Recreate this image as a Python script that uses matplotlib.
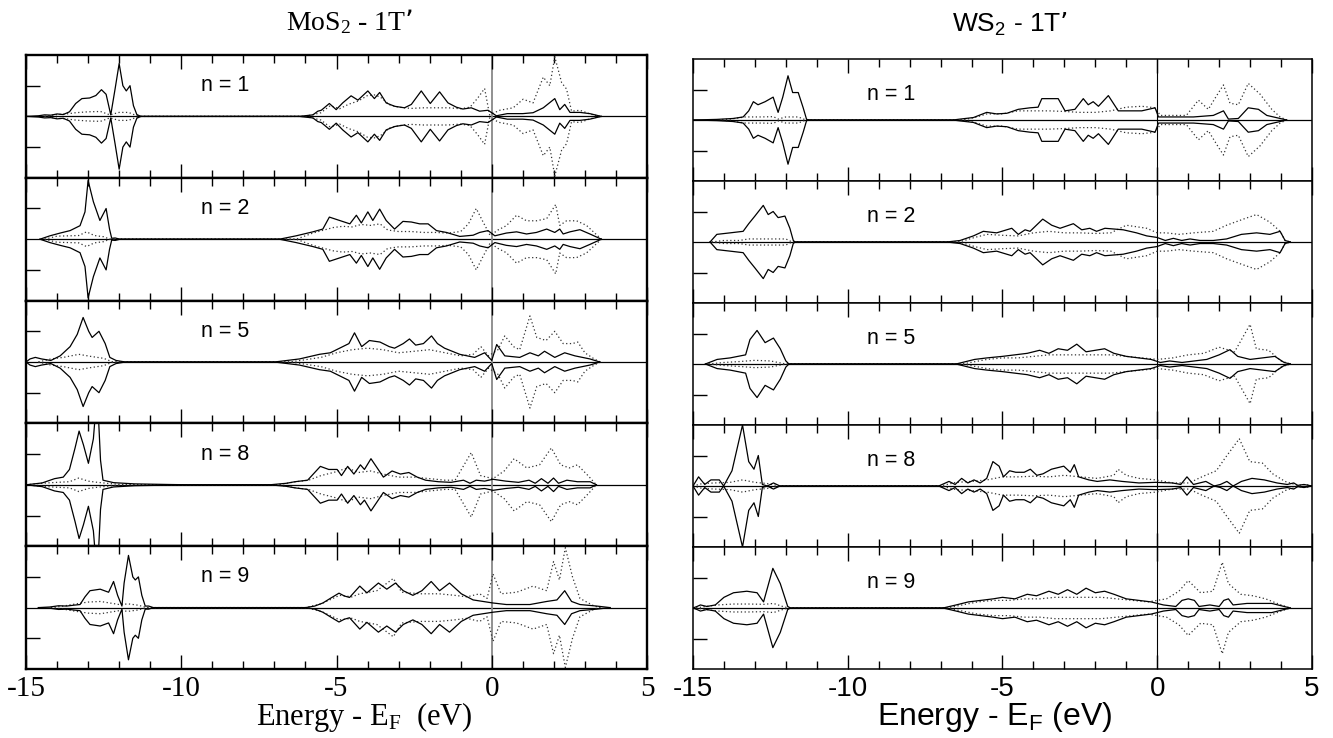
import matplotlib.pyplot as plt

plt.rcParams['axes.unicode_minus'] = False

energy_ticks = [-15, -10, -5, 0, 5]
energy_tick_labels = ['-15', '-10', '-5', '0', '5']
panel_labels = ['n = 1', 'n = 2', 'n = 5', 'n = 8', 'n = 9']

# projected DOS, (energy, weight) pairs; curves are mirrored about zero
# MoS2 - 1T'
mos2_n1_solid = [(-15.0, 0), (-14.6, 0.02), (-14.4, 0.05), (-14.2, 0.04), (-14.0, 0.08), (-13.8, 0.06), (-13.6, 0.15),
                 (-13.4, 0.42), (-13.2, 0.58), (-12.95, 0.6), (-12.75, 0.68), (-12.57, 0.87), (-12.42, 0.72),
                 (-12.27, 0.05), (-12.13, 0.9), (-12.0, 1.72), (-11.88, 1.0), (-11.77, 0.83), (-11.65, 1.0),
                 (-11.54, 0.35), (-11.43, 0.06), (-11.3, 0),
                 (-6.2, 0), (-5.76, 0.05), (-5.6, 0.17), (-5.49, 0.2), (-5.23, 0.42), (-5.01, 0.22), (-4.8, 0.44),
                 (-4.53, 0.67), (-4.31, 0.53), (-3.99, 0.83), (-3.78, 0.58), (-3.61, 0.78), (-3.4, 0.44),
                 (-3.13, 0.33), (-2.81, 0.28), (-2.59, 0.39), (-2.27, 0.83), (-1.98, 0.42), (-1.68, 0.8),
                 (-1.41, 0.44), (-1.14, 0.3), (-0.93, 0.24), (-0.66, 0.28), (-0.39, 0.17), (-0.12, 0.2),
                 (0.15, 0.02), (0.5, 0.09), (1.0, 0.09), (1.33, 0.12), (1.66, 0.28), (2.03, 0.58), (2.19, 0.22),
                 (2.35, 0.39), (2.52, 0.13), (2.84, 0.13), (3.16, 0.09), (3.53, 0)]
mos2_n1_dot = [(-14.4, 0), (-14.0, 0.06), (-13.7, 0.08), (-13.4, 0.12), (-13.0, 0.15), (-12.6, 0.16), (-12.3, 0.05),
               (-12.0, 0.13), (-11.7, 0.13), (-11.5, 0.05), (-11.3, 0),
               (-6.0, 0), (-5.5, 0.12), (-5.2, 0.35), (-4.9, 0.25), (-4.6, 0.4), (-4.3, 0.5), (-4.0, 0.68),
               (-3.75, 0.7), (-3.55, 0.6), (-3.3, 0.38), (-3.0, 0.3), (-2.6, 0.26), (-2.2, 0.28), (-1.8, 0.28),
               (-1.4, 0.28), (-1.0, 0.25), (-0.7, 0.3), (-0.45, 0.6), (-0.23, 0.91), (-0.07, 0.05), (0.26, 0.2),
               (0.69, 0.28), (1.01, 0.56), (1.33, 0.44), (1.66, 1.28), (1.87, 1.0), (2.03, 1.94), (2.25, 1.1),
               (2.41, 0.89), (2.57, 0.17), (2.84, 0.2), (3.16, 0.08), (3.48, 0)]

mos2_n2_solid = [(-14.55, 0), (-14.23, 0.11), (-13.9, 0.2), (-13.58, 0.28), (-13.26, 0.44), (-13.1, 0.89),
                 (-13.0, 1.91), (-12.83, 1.22), (-12.62, 0.61), (-12.42, 1.0), (-12.31, 0.33), (-12.24, 0.03),
                 (-12.13, 0.04), (-11.97, 0),
                 (-6.84, 0), (-6.3, 0.11), (-5.76, 0.24), (-5.44, 0.33), (-5.23, 0.72), (-4.9, 0.61), (-4.57, 0.5),
                 (-4.36, 0.78), (-4.2, 0.53), (-3.99, 0.89), (-3.83, 0.61), (-3.61, 0.98), (-3.4, 0.61),
                 (-3.13, 0.33), (-2.86, 0.58), (-2.59, 0.56), (-2.32, 0.5), (-2.05, 0.5), (-1.78, 0.28),
                 (-1.46, 0.22), (-1.03, 0.09), (-0.6, 0.13), (-0.39, 0.22), (-0.12, 0.28), (0.1, 0.11), (0.47, 0.2),
                 (0.8, 0.24), (1.12, 0.17), (1.44, 0.22), (1.77, 0.33), (2.03, 0.22), (2.19, 0.33), (2.3, 0.17),
                 (2.52, 0.24), (2.84, 0.31), (3.16, 0.17), (3.53, 0)]
mos2_n2_dot = [(-14.4, 0), (-14.0, 0.1), (-13.6, 0.11), (-13.3, 0.12), (-13.05, 0.24), (-12.8, 0.12), (-12.5, 0.08),
               (-12.3, 0),
               (-6.3, 0), (-5.76, 0.2), (-5.4, 0.3), (-5.1, 0.38), (-4.8, 0.42), (-4.5, 0.4), (-4.2, 0.48),
               (-3.9, 0.45), (-3.6, 0.5), (-3.35, 0.3), (-3.0, 0.25), (-2.6, 0.25), (-2.2, 0.22), (-1.8, 0.22),
               (-1.4, 0.2), (-1.0, 0.25), (-0.75, 0.5), (-0.5, 1.0), (-0.3, 0.6), (-0.05, 0.12), (0.2, 0.3),
               (0.47, 0.44), (0.8, 0.78), (1.12, 0.6), (1.44, 0.6), (1.77, 0.67), (2.06, 1.13), (2.19, 0.45),
               (2.41, 0.6), (2.73, 0.6), (3.05, 0.45), (3.53, 0)]

mos2_n5_solid = [(-15.0, 0), (-14.87, 0.1), (-14.7, 0.15), (-14.5, 0.1), (-14.2, 0.05), (-13.9, 0.2), (-13.58, 0.5),
                 (-13.35, 0.9), (-13.16, 1.45), (-12.98, 1.0), (-12.87, 0.8), (-12.65, 1.0), (-12.45, 0.6),
                 (-12.3, 0.15), (-12.1, 0.05), (-11.8, 0),
                 (-7.0, 0), (-6.19, 0.1), (-5.55, 0.25), (-5.2, 0.3), (-4.9, 0.45), (-4.6, 0.6), (-4.42, 0.95),
                 (-4.19, 0.5), (-3.94, 0.7), (-3.6, 0.65), (-3.3, 0.5), (-3.13, 0.45), (-2.85, 0.6), (-2.65, 0.75),
                 (-2.45, 0.55), (-2.2, 0.6), (-1.94, 0.85), (-1.75, 0.6), (-1.52, 0.45), (-1.03, 0.25),
                 (-0.55, 0.15), (-0.23, 0.3), (0.0, 0.05), (0.16, 0.57), (0.42, 0.2), (0.9, 0.15), (1.23, 0.3),
                 (1.5, 0.2), (1.7, 0.35), (2.03, 0.15), (2.35, 0.3), (2.68, 0.2), (3.16, 0.1), (3.48, 0)]
mos2_n5_dot = [(-14.6, 0), (-14.2, 0.1), (-13.8, 0.15), (-13.3, 0.25), (-12.9, 0.18), (-12.5, 0.12), (-12.2, 0),
               (-6.5, 0), (-5.5, 0.15), (-5.0, 0.3), (-4.5, 0.4), (-4.0, 0.45), (-3.5, 0.4), (-3.0, 0.3),
               (-2.5, 0.35), (-2.0, 0.4), (-1.5, 0.3), (-1.0, 0.2), (-0.6, 0.25), (-0.35, 0.5), (-0.1, 0.2),
               (0.2, 0.4), (0.42, 0.85), (0.7, 0.5), (0.9, 0.4), (1.23, 1.5), (1.45, 0.8), (1.75, 0.7),
               (2.03, 1.0), (2.3, 0.6), (2.6, 0.6), (2.77, 0.65), (3.0, 0.3), (3.3, 0.1), (3.5, 0)]

mos2_n8_solid = [(-15.0, 0), (-14.48, 0.06), (-14.08, 0.2), (-13.8, 0.25), (-13.6, 0.5), (-13.42, 1.2),
                 (-13.29, 1.75), (-13.15, 1.3), (-12.99, 0.7), (-12.83, 1.5), (-12.75, 2.5), (-12.68, 2.5),
                 (-12.6, 0.8), (-12.52, 0.15), (-12.18, 0.07), (-11.5, 0.03), (-10.4, 0.01), (-9.7, 0),
                 (-7.15, 0), (-6.61, 0.05), (-6.34, 0.1), (-5.93, 0.15), (-5.52, 0.6), (-5.25, 0.5), (-4.98, 0.5),
                 (-4.84, 0.3), (-4.64, 0.6), (-4.44, 0.35), (-4.23, 0.65), (-4.1, 0.5), (-3.89, 0.85),
                 (-3.69, 0.55), (-3.49, 0.25), (-3.21, 0.45), (-2.94, 0.35), (-2.67, 0.4), (-2.4, 0.25),
                 (-2.13, 0.15), (-1.72, 0.1), (-1.31, 0.08), (-0.91, 0.15), (-0.7, 0.05), (-0.5, 0.15),
                 (-0.23, 0.12), (0.04, 0.18), (0.45, 0.12), (0.86, 0.08), (1.2, 0.15), (1.4, 0.05), (1.6, 0.2),
                 (1.81, 0.05), (1.99, 0.22), (2.15, 0.05), (2.42, 0.15), (2.76, 0.1), (3.17, 0.1), (3.37, 0)]
mos2_n8_dot = [(-15.0, 0), (-14.5, 0.05), (-14.0, 0.08), (-13.6, 0.1), (-13.3, 0.22), (-13.0, 0.12), (-12.7, 0.08),
               (-12.3, 0.04), (-11.8, 0),
               (-6.9, 0), (-6.3, 0.1), (-5.9, 0.15), (-5.5, 0.3), (-5.1, 0.4), (-4.64, 0.55), (-4.3, 0.4),
               (-3.9, 0.45), (-3.5, 0.35), (-3.0, 0.25), (-2.5, 0.25), (-2.0, 0.2), (-1.5, 0.15), (-1.18, 0.15),
               (-0.66, 1.05), (-0.36, 0.3), (0.04, 0.2), (0.4, 0.45), (0.72, 0.85), (1.13, 0.55), (1.54, 0.65),
               (1.92, 1.2), (2.22, 0.65), (2.5, 0.55), (2.76, 0.65), (3.1, 0.3), (3.37, 0)]

mos2_n9_solid = [(-14.6, 0), (-14.23, 0.02), (-13.95, 0.06), (-13.69, 0.05), (-13.45, 0.08), (-13.26, 0.1),
                 (-13.1, 0.35), (-12.94, 0.55), (-12.61, 0.6), (-12.34, 0.5), (-12.18, 0.85), (-12.05, 0.4),
                 (-11.91, 0.05), (-11.84, 0.8), (-11.7, 1.7), (-11.56, 1.0), (-11.48, 0.9), (-11.38, 1.0),
                 (-11.27, 0.4), (-11.16, 0.05), (-11.05, 0.05), (-10.9, 0),
                 (-6.0, 0), (-5.7, 0.05), (-5.44, 0.15), (-5.2, 0.3), (-4.92, 0.47), (-4.75, 0.38), (-4.58, 0.33),
                 (-4.25, 0.7), (-4.02, 0.48), (-3.65, 0.8), (-3.38, 0.6), (-3.1, 0.8), (-2.85, 0.55),
                 (-2.54, 0.4), (-2.25, 0.55), (-1.95, 0.85), (-1.68, 0.55), (-1.36, 0.8), (-0.98, 0.45),
                 (-0.6, 0.25), (-0.28, 0.2), (0.04, 0.15), (0.47, 0.1), (1.23, 0.1), (1.77, 0.2), (2.1, 0.25),
                 (2.35, 0.55), (2.57, 0.2), (2.84, 0.1), (3.38, 0.05), (3.81, 0)]
mos2_n9_dot = [(-14.2, 0), (-13.8, 0.05), (-13.4, 0.12), (-13.0, 0.18), (-12.6, 0.2), (-12.3, 0.15), (-12.0, 0.1),
               (-11.7, 0.12), (-11.4, 0.08), (-11.1, 0),
               (-6.0, 0), (-5.5, 0.12), (-4.9, 0.4), (-4.5, 0.35), (-4.25, 0.45), (-3.7, 0.55), (-3.17, 0.95),
               (-2.9, 0.5), (-2.3, 0.45), (-1.7, 0.45), (-1.2, 0.4), (-0.8, 0.35), (-0.39, 0.45), (-0.15, 0.3),
               (0.04, 1.1), (0.3, 0.45), (0.8, 0.5), (1.33, 0.7), (1.77, 0.55), (1.99, 1.5), (2.18, 0.9),
               (2.37, 1.95), (2.6, 1.0), (2.84, 0.3), (3.3, 0.05), (3.5, 0)]

# WS2 - 1T'
ws2_n1_solid = [(-15.0, 0), (-14.23, 0.02), (-13.7, 0.05), (-13.38, 0.1), (-13.2, 0.3), (-13.05, 0.6), (-12.9, 0.5),
                (-12.67, 0.6), (-12.41, 0.75), (-12.25, 0.25), (-12.1, 0.75), (-11.93, 1.45), (-11.78, 0.9),
                (-11.6, 0.9), (-11.44, 0.4), (-11.33, 0.02), (-11.2, 0),
                (-6.6, 0), (-6.37, 0.03), (-5.94, 0.08), (-5.51, 0.25), (-5.19, 0.2), (-4.86, 0.22), (-4.49, 0.35),
                (-4.11, 0.4), (-3.85, 0.42), (-3.73, 0.7), (-3.2, 0.7), (-2.98, 0.3), (-2.66, 0.35), (-2.39, 0.7),
                (-2.23, 0.5), (-2.07, 0.6), (-1.9, 0.45), (-1.58, 0.8), (-1.26, 0.3), (-0.88, 0.3), (-0.5, 0.3),
                (-0.07, 0.4), (0.04, 0.1), (0.52, 0.1), (1.17, 0.1), (1.81, 0.15), (2.14, 0.3), (2.3, 0.03),
                (2.62, 0.05), (2.94, 0.4), (3.27, 0.35), (3.54, 0.15), (3.97, 0.05), (4.18, 0)]
ws2_n1_dot = [(-14.3, 0), (-13.8, 0.03), (-13.3, 0.1), (-12.8, 0.1), (-12.4, 0.11), (-12.25, 0.03), (-12.0, 0.1),
              (-11.6, 0.1), (-11.35, 0),
              (-6.3, 0), (-5.9, 0.08), (-5.5, 0.2), (-5.0, 0.2), (-4.5, 0.3), (-4.0, 0.3), (-3.5, 0.3),
              (-3.0, 0.28), (-2.5, 0.25), (-2.0, 0.25), (-1.5, 0.3), (-1.0, 0.42), (-0.5, 0.45), (-0.07, 0.4),
              (0.1, 0.15), (0.94, 0.15), (1.33, 0.65), (1.65, 0.35), (1.92, 0.8), (2.14, 1.15), (2.35, 0.55),
              (2.62, 0.5), (2.94, 1.2), (3.32, 0.85), (3.7, 0.35), (3.97, 0.1), (4.18, 0)]

ws2_n2_solid = [(-14.45, 0), (-14.23, 0.25), (-13.8, 0.3), (-13.38, 0.35), (-13.2, 0.6), (-13.0, 0.85),
                (-12.73, 1.2), (-12.57, 0.9), (-12.41, 1.0), (-12.25, 0.8), (-12.03, 0.85), (-11.87, 0.45),
                (-11.76, 0.05), (-11.7, 0),
                (-6.8, 0), (-6.37, 0.05), (-5.94, 0.2), (-5.62, 0.35), (-5.19, 0.3), (-4.7, 0.45), (-4.49, 0.25),
                (-4.27, 0.4), (-4.11, 0.35), (-3.7, 0.75), (-3.41, 0.55), (-3.14, 0.45), (-2.71, 0.6),
                (-2.44, 0.4), (-2.18, 0.45), (-1.96, 0.35), (-1.69, 0.45), (-1.1, 0.4), (-0.67, 0.3),
                (-0.34, 0.2), (-0.01, 0.15), (0.26, 0.05), (0.52, 0.12), (0.79, 0.05), (1.06, 0.1), (1.38, 0.05),
                (1.81, 0.05), (2.24, 0.1), (2.72, 0.25), (3.21, 0.3), (3.64, 0.25), (3.97, 0.35), (4.13, 0.05),
                (4.3, 0)]
ws2_n2_dot = [(-14.4, 0), (-14.0, 0.05), (-13.5, 0.05), (-13.2, 0.1), (-12.6, 0.1), (-12.0, 0.1), (-11.8, 0),
              (-6.4, 0), (-5.9, 0.15), (-5.5, 0.25), (-5.0, 0.22), (-4.5, 0.2), (-4.0, 0.3), (-3.5, 0.35),
              (-3.0, 0.3), (-2.5, 0.3), (-2.0, 0.28), (-1.5, 0.3), (-1.0, 0.55), (-0.34, 0.45), (0.0, 0.3),
              (0.3, 0.3), (0.7, 0.25), (1.17, 0.3), (1.81, 0.35), (2.24, 0.55), (2.78, 0.75), (3.21, 0.9),
              (3.64, 0.65), (3.97, 0.35), (4.13, 0.05), (4.3, 0)]

ws2_n5_solid = [(-14.6, 0), (-14.22, 0.15), (-13.8, 0.2), (-13.3, 0.3), (-13.16, 0.8), (-12.93, 1.1), (-12.67, 0.7),
                (-12.4, 0.85), (-12.18, 0.5), (-12.0, 0.1), (-11.9, 0),
                (-6.5, 0), (-6.3, 0.05), (-5.9, 0.15), (-5.5, 0.2), (-5.0, 0.25), (-4.6, 0.3), (-4.2, 0.35),
                (-3.8, 0.45), (-3.5, 0.35), (-3.2, 0.5), (-2.9, 0.45), (-2.6, 0.65), (-2.3, 0.4), (-2.0, 0.45),
                (-1.7, 0.5), (-1.4, 0.35), (-1.0, 0.25), (-0.6, 0.2), (-0.2, 0.15), (0.1, 0.05), (0.4, 0.1),
                (0.8, 0.05), (1.2, 0.1), (1.6, 0.15), (2.0, 0.3), (2.35, 0.47), (2.6, 0.25), (3.0, 0.15),
                (3.4, 0.2), (3.8, 0.25), (4.1, 0.05), (4.3, 0)]
ws2_n5_dot = [(-14.5, 0), (-14.0, 0.05), (-13.5, 0.08), (-13.0, 0.12), (-12.5, 0.1), (-12.0, 0),
              (-6.3, 0), (-5.5, 0.15), (-5.0, 0.2), (-4.5, 0.2), (-4.0, 0.25), (-3.5, 0.3), (-3.0, 0.3),
              (-2.5, 0.3), (-2.0, 0.3), (-1.5, 0.3), (-1.0, 0.25), (-0.5, 0.2), (0.0, 0.15), (0.5, 0.2),
              (1.0, 0.3), (1.5, 0.35), (2.0, 0.55), (2.5, 0.4), (3.0, 1.3), (3.2, 0.5), (3.6, 0.45), (4.0, 0.1),
              (4.3, 0)]

ws2_n8_solid = [(-15.0, 0), (-14.82, 0.3), (-14.62, 0.05), (-14.42, 0.2), (-14.15, 0.2), (-14.01, 0.0),
                (-13.74, 0.5), (-13.4, 2.0), (-13.2, 0.8), (-13.03, 0.55), (-12.89, 1.0), (-12.76, 0.05),
                (-12.6, 0.0), (-12.4, 0.1), (-12.19, 0),
                (-7.06, 0), (-6.73, 0.15), (-6.53, 0.05), (-6.32, 0.25), (-6.12, 0.1), (-5.92, 0.2), (-5.72, 0.1),
                (-5.51, 0.25), (-5.31, 0.8), (-5.11, 0.65), (-4.97, 0.3), (-4.77, 0.5), (-4.57, 0.45),
                (-4.3, 0.45), (-4.1, 0.55), (-3.89, 0.35), (-3.69, 0.4), (-3.42, 0.55), (-3.22, 0.6),
                (-3.02, 0.65), (-2.81, 0.45), (-2.68, 0.7), (-2.54, 0.3), (-2.21, 0.2), (-1.94, 0.15),
                (-1.53, 0.2), (-1.13, 0.15), (-0.59, 0.1), (-0.05, 0.12), (0.49, 0.1), (0.76, 0.05), (0.96, 0.3),
                (1.17, 0.05), (1.57, 0.15), (1.84, 0.0), (2.04, 0.05), (2.25, 0.15), (2.45, 0.0), (2.72, 0.15),
                (3.06, 0.25), (3.46, 0.2), (3.87, 0.1), (4.2, 0.05), (4.41, 0.1), (4.54, 0.02), (4.74, 0.05),
                (5.0, 0)]
ws2_n8_dot = [(-15.0, 0), (-14.7, 0.08), (-14.3, 0.1), (-13.8, 0.12), (-13.4, 0.2), (-13.0, 0.12), (-12.6, 0.08),
              (-12.2, 0),
              (-7.0, 0), (-6.5, 0.12), (-6.0, 0.15), (-5.5, 0.2), (-5.0, 0.3), (-4.5, 0.3), (-4.0, 0.32),
              (-3.5, 0.3), (-3.0, 0.35), (-2.5, 0.3), (-1.94, 0.25), (-1.4, 0.35), (-1.27, 0.55), (-1.0, 0.35),
              (-0.59, 0.25), (-0.05, 0.2), (0.49, 0.1), (1.03, 0.1), (1.44, 0.3), (1.91, 0.5), (2.18, 0.9),
              (2.65, 1.55), (2.99, 0.8), (3.4, 0.75), (3.73, 0.4), (4.13, 0.15), (4.54, 0.02), (4.81, 0.05),
              (5.0, 0)]

ws2_n9_solid = [(-15.0, 0), (-14.87, 0.05), (-14.76, 0.1), (-14.55, 0.05), (-14.28, 0.1), (-14.0, 0.35),
                (-13.69, 0.5), (-13.26, 0.55), (-12.93, 0.5), (-12.72, 0.2), (-12.42, 1.3), (-12.18, 0.8),
                (-11.94, 0.05), (-11.85, 0),
                (-6.92, 0), (-6.5, 0.1), (-6.1, 0.2), (-5.7, 0.25), (-5.3, 0.3), (-5.0, 0.35), (-4.6, 0.3),
                (-4.2, 0.45), (-3.9, 0.4), (-3.5, 0.55), (-3.2, 0.45), (-2.9, 0.6), (-2.6, 0.45), (-2.3, 0.65),
                (-2.0, 0.5), (-1.7, 0.55), (-1.4, 0.45), (-1.0, 0.3), (-0.6, 0.25), (-0.2, 0.2), (0.2, 0.1),
                (0.6, 0.05), (0.8, 0.25), (1.0, 0.3), (1.2, 0.25), (1.35, 0.05), (1.7, 0.1), (2.0, 0.05),
                (2.15, 0.25), (2.3, 0.3), (2.45, 0.1), (2.9, 0.15), (3.3, 0.15), (3.7, 0.15), (4.1, 0.05), (4.3, 0)]
ws2_n9_dot = [(-14.9, 0), (-14.6, 0.05), (-14.2, 0.1), (-13.7, 0.13), (-13.2, 0.13), (-12.7, 0.12), (-12.4, 0.15),
              (-12.1, 0.05), (-11.9, 0),
              (-6.8, 0), (-6.3, 0.1), (-5.8, 0.2), (-5.3, 0.25), (-4.8, 0.25), (-4.3, 0.3), (-3.8, 0.3),
              (-3.3, 0.35), (-2.8, 0.35), (-2.3, 0.35), (-1.8, 0.35), (-1.3, 0.3), (-0.8, 0.25), (-0.3, 0.2),
              (0.3, 0.3), (0.7, 0.55), (1.0, 0.9), (1.4, 0.5), (1.8, 0.55), (2.1, 1.5), (2.3, 0.8), (2.7, 0.45),
              (3.1, 0.4), (3.5, 0.3), (4.0, 0.1), (4.3, 0)]

mos2_panels = [(mos2_n1_solid, mos2_n1_dot), (mos2_n2_solid, mos2_n2_dot), (mos2_n5_solid, mos2_n5_dot),
               (mos2_n8_solid, mos2_n8_dot), (mos2_n9_solid, mos2_n9_dot)]
ws2_panels = [(ws2_n1_solid, ws2_n1_dot), (ws2_n2_solid, ws2_n2_dot), (ws2_n5_solid, ws2_n5_dot),
              (ws2_n8_solid, ws2_n8_dot), (ws2_n9_solid, ws2_n9_dot)]

fig = plt.figure(figsize=(13.33, 7.38), dpi=100)

SERIF = ['Liberation Serif', 'DejaVu Serif']
SANS = ['Liberation Sans', 'DejaVu Sans']


def mirrored(ax, pairs, **kw):
    e, v = zip(*pairs)
    ax.plot(e, v, **kw)
    ax.plot(e, [-x for x in v], **kw)


def draw_column(panels, left, width, top, height, font, tick_size, frame_lw, zero_color, zero_lw, label_y):
    for i, (solid, dot) in enumerate(panels):
        ax = fig.add_axes([left, top - (i + 1) * height, width, height])
        ax.set_xlim(-15, 5)
        ax.set_ylim(-2, 2)
        ax.axhline(0, color='k', lw=0.9, zorder=1)
        ax.axvline(0, color=zero_color, lw=zero_lw, zorder=1)
        mirrored(ax, dot, color='#333333', lw=0.9, ls=(0, (1, 2)), zorder=2)
        mirrored(ax, solid, color='k', lw=0.9, zorder=3)
        ax.text(-8.6, label_y, panel_labels[i], family=SANS, fontsize=15.5, ha='center', va='center')

        ax.set_xticks(energy_ticks)
        ax.set_xticks(range(-15, 6), minor=True)
        ax.set_yticks([-1, 1])
        ax.tick_params(axis='x', which='major', direction='in', length=10, width=1.0, top=True, bottom=True)
        ax.tick_params(axis='x', which='minor', direction='in', length=5.5, width=1.0, top=True, bottom=True)
        ax.tick_params(axis='y', direction='in', length=10, width=1.0, labelleft=False)
        for s in ax.spines.values():
            s.set_linewidth(frame_lw)
        if i == len(panels) - 1:
            ax.set_xticklabels(energy_tick_labels, family=font, fontsize=tick_size)
            ax.tick_params(axis='x', pad=5)
        else:
            ax.tick_params(axis='x', labelbottom=False)


H = 1333.0
V = 738.0
draw_column(mos2_panels, 26 / H, 621 / H, 1 - 55 / V, 122.8 / V, SERIF, 21, 1.7, '#888888', 1.3, 1.0)
draw_column(ws2_panels, 693 / H, 619 / H, 1 - 59 / V, 122 / V, SANS, 20, 1.1, 'k', 0.8, 0.85)

fig.text(349 / H, 1 - 22 / V, r"MoS$\mathregular{_2}$ - 1T’", family=SERIF, fontsize=20, ha='center', va='center')
fig.text(1010 / H, 1 - 24 / V, r"WS$\mathregular{_2}$ - 1T’", family=SANS, fontsize=19, ha='center', va='center')
fig.text(364 / H, 1 - 717 / V, r"Energy - E$\mathregular{_F}$  (eV)", family=SERIF, fontsize=22,
         ha='center', va='center')
fig.text(995 / H, 1 - 717 / V, r"Energy - E$\mathregular{_F}$ (eV)", family=SANS, fontsize=23,
         ha='center', va='center')

fig.savefig('out.png', dpi=100)
